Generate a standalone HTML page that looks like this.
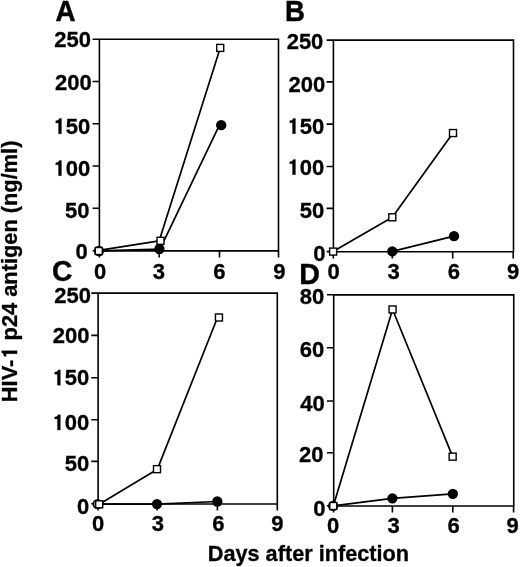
<!DOCTYPE html>
<html><head><meta charset="utf-8"><style>
html,body{margin:0;padding:0;background:#fff;overflow:hidden;}
svg{display:block;will-change:transform;}
.t{font-family:"Liberation Sans", sans-serif;font-weight:bold;font-size:21.6px;fill:#000;stroke:#000;stroke-width:0.3px;white-space:pre;}
.g1{fill:#000;stroke:#000;stroke-width:0.3px;white-space:pre;}
.p{font-family:"Liberation Sans", sans-serif;font-weight:bold;fill:#000;stroke:#000;stroke-width:0.45px;}
</style></head><body>
<svg width="520" height="567" viewBox="0 0 520 567" xml:space="preserve">
<rect width="520" height="567" fill="#fff"/>
<path d="M99.4,39.2H278.5V250.9H99.4Z" fill="none" stroke="#000" stroke-width="1.6"/>
<path d="M92.6,39.2H99.4M92.6,81.5H99.4M92.6,123.8H99.4M92.6,166H99.4M92.6,208.2H99.4M92.6,250.7H99.4M99.4,250.9V257.5M159.2,250.9V257.5M219.5,250.9V257.5M278.5,250.9V257.5" stroke="#000" stroke-width="1.6" fill="none"/>
<g transform="translate(54.24,47.14) scale(1.02,1)"><text class="t" x="0" y="0">250</text></g>
<g transform="translate(55.04,89.64) scale(1.02,1)"><text class="t" x="0" y="0">200</text></g>
<g transform="translate(53.54,133.84) scale(1.02,1)"><path class="g1" d="M7.75,0L7.75,-15.25L5.66,-15.25C5.36,-14.04 4.32,-13.22 2.18,-12.96L2.18,-10.93L4.88,-10.93L4.88,0Z"/><text class="t" x="12.01" y="0">50</text></g>
<g transform="translate(53.54,175.69) scale(1.02,1)"><path class="g1" d="M7.75,0L7.75,-15.25L5.66,-15.25C5.36,-14.04 4.32,-13.22 2.18,-12.96L2.18,-10.93L4.88,-10.93L4.88,0Z"/><text class="t" x="12.01" y="0">00</text></g>
<g transform="translate(65,217.69) scale(1.02,1)"><text class="t" x="0" y="0">50</text></g>
<g transform="translate(75.55,259.19) scale(1.02,1)"><text class="t" x="0" y="0">0</text></g>
<g transform="translate(93.89,278.94) scale(1.02,1)"><text class="t" x="0" y="0">0</text></g>
<g transform="translate(152.82,278.92) scale(1.02,1)"><text class="t" x="0" y="0">3</text></g>
<g transform="translate(213.37,278.94) scale(1.02,1)"><text class="t" x="0" y="0">6</text></g>
<g transform="translate(273.2,278.94) scale(1.02,1)"><text class="t" x="0" y="0">9</text></g>
<polyline points="99,250.8 160,249.2 219.4,125.2" fill="none" stroke="#000" stroke-width="1.7" stroke-linejoin="round"/>
<polyline points="98.8,250.4 159.2,240.8 220.2,47.9" fill="none" stroke="#000" stroke-width="1.7" stroke-linejoin="round"/>
<circle cx="99" cy="251" r="5.15"/>
<circle cx="159.4" cy="249" r="5.15"/>
<circle cx="221.2" cy="125.2" r="5.15"/>
<rect x="95.3" y="247.5" width="7.0" height="7.0" fill="#fff" stroke="#000" stroke-width="1.4"/>
<rect x="157" y="237.3" width="7.0" height="7.0" fill="#fff" stroke="#000" stroke-width="1.4"/>
<rect x="216.7" y="44.4" width="7.0" height="7.0" fill="#fff" stroke="#000" stroke-width="1.4"/>
<path d="M333.4,40.1H513.5V251.8H333.4Z" fill="none" stroke="#000" stroke-width="1.6"/>
<path d="M326.6,40.1H333.4M326.6,81.9H333.4M326.6,124.1H333.4M326.6,166.5H333.4M326.6,208.4H333.4M326.6,251.6H333.4M333.3,251.8V258.4M392.3,251.8V258.4M452.7,251.8V258.4M513.2,251.8V258.4" stroke="#000" stroke-width="1.6" fill="none"/>
<g transform="translate(286.64,49.04) scale(1.02,1)"><text class="t" x="0" y="0">250</text></g>
<g transform="translate(288.54,91.74) scale(1.02,1)"><text class="t" x="0" y="0">200</text></g>
<g transform="translate(287.54,133.64) scale(1.02,1)"><path class="g1" d="M7.75,0L7.75,-15.25L5.66,-15.25C5.36,-14.04 4.32,-13.22 2.18,-12.96L2.18,-10.93L4.88,-10.93L4.88,0Z"/><text class="t" x="12.01" y="0">50</text></g>
<g transform="translate(287.54,174.64) scale(1.02,1)"><path class="g1" d="M7.75,0L7.75,-15.25L5.66,-15.25C5.36,-14.04 4.32,-13.22 2.18,-12.96L2.18,-10.93L4.88,-10.93L4.88,0Z"/><text class="t" x="12.01" y="0">00</text></g>
<g transform="translate(299.8,217.74) scale(1.02,1)"><text class="t" x="0" y="0">50</text></g>
<g transform="translate(313.15,260.64) scale(1.02,1)"><text class="t" x="0" y="0">0</text></g>
<g transform="translate(327.39,279.24) scale(1.02,1)"><text class="t" x="0" y="0">0</text></g>
<g transform="translate(387.52,279.22) scale(1.02,1)"><text class="t" x="0" y="0">3</text></g>
<g transform="translate(447.67,279.24) scale(1.02,1)"><text class="t" x="0" y="0">6</text></g>
<g transform="translate(506.9,279.24) scale(1.02,1)"><text class="t" x="0" y="0">9</text></g>
<polyline points="392.3,251.4 454,236.15" fill="none" stroke="#000" stroke-width="1.7" stroke-linejoin="round"/>
<polyline points="333.1,251.6 392.3,217.3 453,133.05" fill="none" stroke="#000" stroke-width="1.7" stroke-linejoin="round"/>
<circle cx="392.3" cy="251.4" r="5.15"/>
<circle cx="454" cy="236.15" r="5.15"/>
<rect x="329.6" y="248.1" width="7.0" height="7.0" fill="#fff" stroke="#000" stroke-width="1.4"/>
<rect x="388.8" y="213.8" width="7.0" height="7.0" fill="#fff" stroke="#000" stroke-width="1.4"/>
<rect x="449.5" y="129.55" width="7.0" height="7.0" fill="#fff" stroke="#000" stroke-width="1.4"/>
<path d="M98.1,293.1H277.3V504H98.1Z" fill="none" stroke="#000" stroke-width="1.6"/>
<path d="M91.3,293.1H98.1M91.3,335.4H98.1M91.3,377.8H98.1M91.3,419.7H98.1M91.3,461.4H98.1M91.3,503.8H98.1M98.1,504V510.6M157.2,504V510.6M217.4,504V510.6M277.3,504V510.6" stroke="#000" stroke-width="1.6" fill="none"/>
<g transform="translate(54.34,302.94) scale(1.02,1)"><text class="t" x="0" y="0">250</text></g>
<g transform="translate(52.84,343.34) scale(1.02,1)"><text class="t" x="0" y="0">200</text></g>
<g transform="translate(52.44,385.14) scale(1.02,1)"><path class="g1" d="M7.75,0L7.75,-15.25L5.66,-15.25C5.36,-14.04 4.32,-13.22 2.18,-12.96L2.18,-10.93L4.88,-10.93L4.88,0Z"/><text class="t" x="12.01" y="0">50</text></g>
<g transform="translate(52.44,429.94) scale(1.02,1)"><path class="g1" d="M7.75,0L7.75,-15.25L5.66,-15.25C5.36,-14.04 4.32,-13.22 2.18,-12.96L2.18,-10.93L4.88,-10.93L4.88,0Z"/><text class="t" x="12.01" y="0">00</text></g>
<g transform="translate(64.7,470.94) scale(1.02,1)"><text class="t" x="0" y="0">50</text></g>
<g transform="translate(76.95,513.84) scale(1.02,1)"><text class="t" x="0" y="0">0</text></g>
<g transform="translate(91.99,531.44) scale(1.02,1)"><text class="t" x="0" y="0">0</text></g>
<g transform="translate(151.82,531.42) scale(1.02,1)"><text class="t" x="0" y="0">3</text></g>
<g transform="translate(212.17,531.44) scale(1.02,1)"><text class="t" x="0" y="0">6</text></g>
<g transform="translate(271.2,531.44) scale(1.02,1)"><text class="t" x="0" y="0">9</text></g>
<polyline points="97.6,504.1 157,504.1 217.3,501.5" fill="none" stroke="#000" stroke-width="1.7" stroke-linejoin="round"/>
<polyline points="99.2,504.3 157.4,469.15 217.5,317.5" fill="none" stroke="#000" stroke-width="1.7" stroke-linejoin="round"/>
<circle cx="97.6" cy="504.1" r="4.45" fill="#777" stroke="#000" stroke-width="1.4"/>
<circle cx="157" cy="504.1" r="5.15"/>
<circle cx="217.3" cy="501.5" r="5.15"/>
<rect x="95.7" y="500.8" width="7.0" height="7.0" fill="#fff" stroke="#000" stroke-width="1.4"/>
<rect x="153.5" y="465.65" width="7.0" height="7.0" fill="#fff" stroke="#000" stroke-width="1.4"/>
<rect x="215.45" y="314" width="7.0" height="7.0" fill="#fff" stroke="#000" stroke-width="1.4"/>
<path d="M333.7,294.9H513.75V506H333.7Z" fill="none" stroke="#000" stroke-width="1.6"/>
<path d="M326.9,294.8H333.7M326.9,347.7H333.7M326.9,401H333.7M326.9,452.8H333.7M326.9,505.7H333.7M333.5,506V512.6M392.4,506V512.6M452.8,506V512.6M513.6,506V512.6" stroke="#000" stroke-width="1.6" fill="none"/>
<g transform="translate(299.8,304.34) scale(1.02,1)"><text class="t" x="0" y="0">80</text></g>
<g transform="translate(299.8,357.44) scale(1.02,1)"><text class="t" x="0" y="0">60</text></g>
<g transform="translate(300.2,410.94) scale(1.02,1)"><text class="t" x="0" y="0">40</text></g>
<g transform="translate(299,462.44) scale(1.02,1)"><text class="t" x="0" y="0">20</text></g>
<g transform="translate(313.25,515.84) scale(1.02,1)"><text class="t" x="0" y="0">0</text></g>
<g transform="translate(326.99,533.04) scale(1.02,1)"><text class="t" x="0" y="0">0</text></g>
<g transform="translate(387.52,533.02) scale(1.02,1)"><text class="t" x="0" y="0">3</text></g>
<g transform="translate(447.47,533.04) scale(1.02,1)"><text class="t" x="0" y="0">6</text></g>
<g transform="translate(506.5,533.04) scale(1.02,1)"><text class="t" x="0" y="0">9</text></g>
<polyline points="333.1,505.9 392.4,498.3 452.85,493.8" fill="none" stroke="#000" stroke-width="1.7" stroke-linejoin="round"/>
<polyline points="333.3,506 392.55,309.45 452.65,456.65" fill="none" stroke="#000" stroke-width="1.7" stroke-linejoin="round"/>
<circle cx="333.1" cy="505.9" r="5.15"/>
<circle cx="392.4" cy="498.3" r="5.15"/>
<circle cx="452.85" cy="493.8" r="5.15"/>
<rect x="329.8" y="502.5" width="7.0" height="7.0" fill="#fff" stroke="#000" stroke-width="1.4"/>
<rect x="389.05" y="305.95" width="7.0" height="7.0" fill="#fff" stroke="#000" stroke-width="1.4"/>
<rect x="449.15" y="453.15" width="7.0" height="7.0" fill="#fff" stroke="#000" stroke-width="1.4"/>
<text class="p" transform="translate(55.57,20.7) scale(0.96,1)" style="font-size:29px">A</text>
<text class="p" transform="translate(284.96,20.7) scale(0.95,1)" style="font-size:29px">B</text>
<text class="p" transform="translate(51.94,281.1) scale(0.955,1)" style="font-size:29.5px">C</text>
<text class="p" transform="translate(299.34,284.3) scale(0.955,1)" style="font-size:30px">D</text>
<g transform="translate(17.1,402.16) rotate(-90)" style="font-size:21.8px"><text class="t" x="0" y="0" style="font-size:21.8px">HIV-</text><path class="g1" d="M51.43,0L51.43,-15.39L49.31,-15.39C49.01,-14.17 47.96,-13.34 45.8,-13.08L45.8,-11.03L48.53,-11.03L48.53,0Z"/><text class="t" x="55.72" y="0" style="font-size:21.8px"> p24 antigen (ng/ml)</text></g>
<text class="t" x="207.75" y="561.2" style="font-size:21.7px">Days after infection</text>
</svg>
</body></html>
